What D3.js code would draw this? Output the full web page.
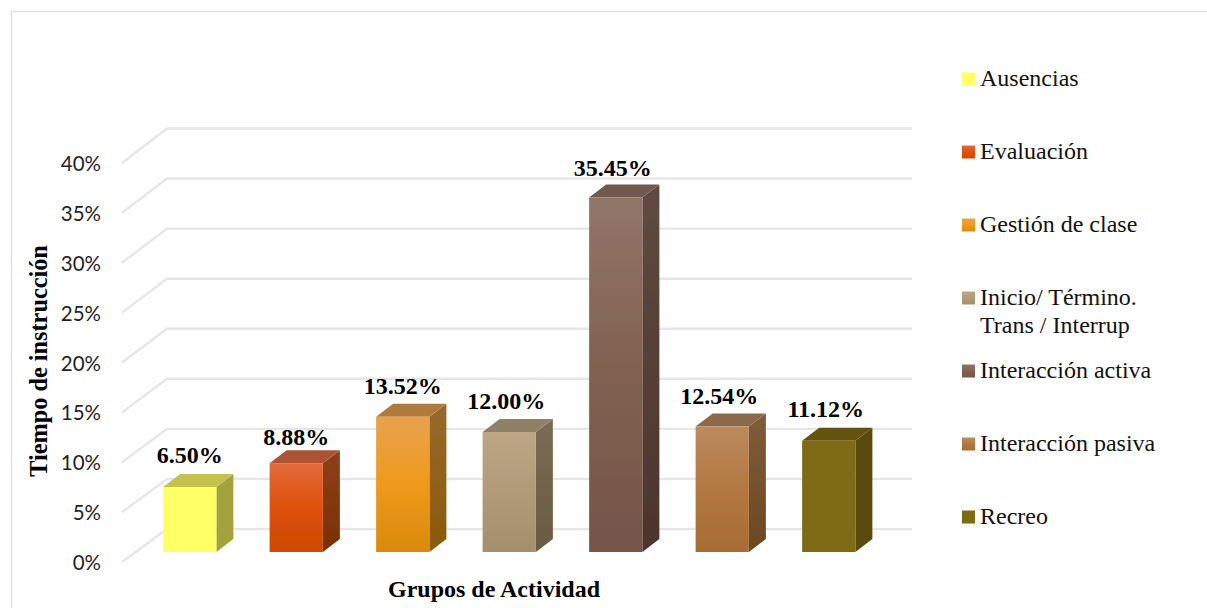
<!DOCTYPE html>
<html>
<head>
<meta charset="utf-8">
<script src="https://d3js.org/d3.v7.min.js"></script>
<style>
  html, body { margin: 0; padding: 0; background: #fff; overflow: hidden; }
  svg { display: block; }
</style>
</head>
<body>
<script>
const w = 1207
const h = 608

const categories = ["Ausencias", "Evaluación", "Gestión de clase", "Inicio/ Término.|Trans / Interrup", "Interacción activa", "Interacción pasiva", "Recreo"]
const values = [6.5, 8.88, 13.52, 12.0, 35.45, 12.54, 11.12]
const valueLabels = ["6.50%", "8.88%", "13.52%", "12.00%", "35.45%", "12.54%", "11.12%"]
const tickValues = [0, 5, 10, 15, 20, 25, 30, 35, 40]

// colours: [front top, front mid, front bottom, side top, side bottom, roof]
const colors = [
    ["#ffff66", "#ffff66", "#ffff66", "#a3a33d", "#a3a33d", "#c2c24d"],
    ["#e26a3d", "#de5009", "#cc4a04", "#8f3f1c", "#7a3000", "#ab5233"],
    ["#e8a24e", "#ee9a1c", "#d98a0c", "#966a2c", "#8a5a0a", "#b07a3c"],
    ["#bea684", "#b09a78", "#a48f6c", "#7a6c56", "#685a42", "#8f8068"],
    ["#92766a", "#80604f", "#75554a", "#5f4a40", "#4d342c", "#6f5a50"],
    ["#bc8a5e", "#b27840", "#a66c34", "#7f5c3a", "#6d4722", "#8c6a48"],
    ["#7f6a14", "#7f6a14", "#7f6a14", "#5a4a0c", "#5a4a0c", "#655208"]
]

// hand placed offsets of the value labels, like in the original chart
const labelDy = [-1, 5, 0, 0, 1, 0, -1]

const depthX = 17
const depthY = 13

const svg = d3.select("body").append("svg")
    .attr("width", w)
    .attr("height", h)

const defs = svg.append("defs")
const blur = defs.append("filter").attr("id", "soft")
    .attr("x", "-5%").attr("y", "-5%").attr("width", "110%").attr("height", "110%")
blur.append("feGaussianBlur").attr("stdDeviation", 0.5)

colors.forEach((c, i) => {
    const front = defs.append("linearGradient").attr("id", `front${i}`)
        .attr("x1", 0).attr("x2", 0).attr("y1", 0).attr("y2", 1)
    front.append("stop").attr("offset", "0%").attr("stop-color", c[0])
    front.append("stop").attr("offset", "50%").attr("stop-color", c[1])
    front.append("stop").attr("offset", "100%").attr("stop-color", c[2])
    const side = defs.append("linearGradient").attr("id", `side${i}`)
        .attr("x1", 0).attr("x2", 0).attr("y1", 0).attr("y2", 1)
    side.append("stop").attr("offset", "0%").attr("stop-color", c[3])
    side.append("stop").attr("offset", "100%").attr("stop-color", c[4])
})

// outer frame, only top and left show up in the shot
svg.append("path")
    .attr("d", `M11.5,${h} V11.5 H${w}`)
    .attr("fill", "none")
    .attr("stroke", "#e2e2e2")
    .attr("stroke-width", 1.5)

const x = d3.scaleBand()
    .domain(categories)
    .range([136.5, 882])
    .paddingInner(0.5)
    .paddingOuter(0.25)

// three y scales because of the fake 3d: tick labels, back wall, bars
const yAxisScale = d3.scaleLinear().domain([0, 40]).range([562, 163])
const yWall = d3.scaleLinear().domain([0, 40]).range([529, 128.5])
const yBar = d3.scaleLinear().domain([0, 40]).range([552, 152])

const grid = svg.append("g").attr("filter", "url(#soft)")
tickValues.forEach(t => {
    grid.append("path")
        .attr("d", `M122,${yAxisScale(t)} L167,${yWall(t)} H912`)
        .attr("fill", "none")
        .attr("stroke", "#e6e6e6")
        .attr("stroke-width", 2.4)
})

const yAxis = d3.axisLeft(yAxisScale)
    .tickValues(tickValues)
    .tickFormat(d => d + "%")
    .tickSize(0)
    .tickPadding(0)

svg.append("g")
    .attr("transform", "translate(101,1)")
    .call(yAxis)
    .call(g => g.select(".domain").remove())
    .selectAll("text")
    .attr("font-family", "Lato")
    .attr("font-size", 20.5)
    .attr("fill", "#1f1f1f")

const bars = svg.append("g").attr("filter", "url(#soft)")
    .selectAll("g")
    .data(categories)
    .enter()
    .append("g")

bars.append("path")
    .attr("d", (d, i) => {
        const x1 = x(d) + x.bandwidth()
        const top = yBar(values[i])
        return `M${x1},${top} l${depthX},${-depthY} V${yBar(0) - depthY} l${-depthX},${depthY} Z`
    })
    .attr("fill", (d, i) => `url(#side${i})`)

bars.append("path")
    .attr("d", (d, i) => {
        const top = yBar(values[i])
        return `M${x(d)},${top} l${depthX},${-depthY} h${x.bandwidth()} l${-depthX},${depthY} Z`
    })
    .attr("fill", (d, i) => colors[i][5])

bars.append("rect")
    .attr("x", d => x(d))
    .attr("y", (d, i) => yBar(values[i]))
    .attr("width", x.bandwidth())
    .attr("height", (d, i) => yBar(0) - yBar(values[i]))
    .attr("fill", (d, i) => `url(#front${i})`)

svg.append("g")
    .selectAll("text")
    .data(categories)
    .enter()
    .append("text")
    .attr("x", d => x(d) + x.bandwidth() / 2 - (x(d) > 400 ? 3 : 0))
    .attr("y", (d, i) => yBar(values[i]) - 23 + labelDy[i])
    .attr("text-anchor", "middle")
    .attr("font-family", "Liberation Serif")
    .attr("font-weight", "bold")
    .attr("font-size", 24)
    .attr("fill", "#000")
    .text((d, i) => valueLabels[i])

svg.append("text")
    .attr("transform", "translate(47,361) rotate(-90)")
    .attr("text-anchor", "middle")
    .attr("font-family", "Liberation Serif")
    .attr("font-weight", "bold")
    .attr("font-size", 24.3)
    .text("Tiempo de instrucción")

svg.append("text")
    .attr("x", 494)
    .attr("y", 597)
    .attr("text-anchor", "middle")
    .attr("font-family", "Liberation Serif")
    .attr("font-weight", "bold")
    .attr("font-size", 24)
    .text("Grupos de Actividad")

const legendY = d3.scalePoint().domain(categories).range([79, 517])

const legend = svg.append("g")
    .selectAll("g")
    .data(categories)
    .enter()
    .append("g")
    .attr("transform", d => `translate(962,${legendY(d)})`)

legend.append("rect")
    .attr("x", 0)
    .attr("y", -6.5)
    .attr("width", 13)
    .attr("height", 13)
    .attr("fill", (d, i) => `url(#front${i})`)

legend.append("text")
    .attr("font-family", "Liberation Serif")
    .attr("font-size", 24)
    .attr("fill", "#111")
    .selectAll("tspan")
    .data(d => d.split("|"))
    .enter()
    .append("tspan")
    .attr("x", 18)
    .attr("y", (d, i) => 7 + i * 28)
    .text(d => d)
</script>
</body>
</html>
